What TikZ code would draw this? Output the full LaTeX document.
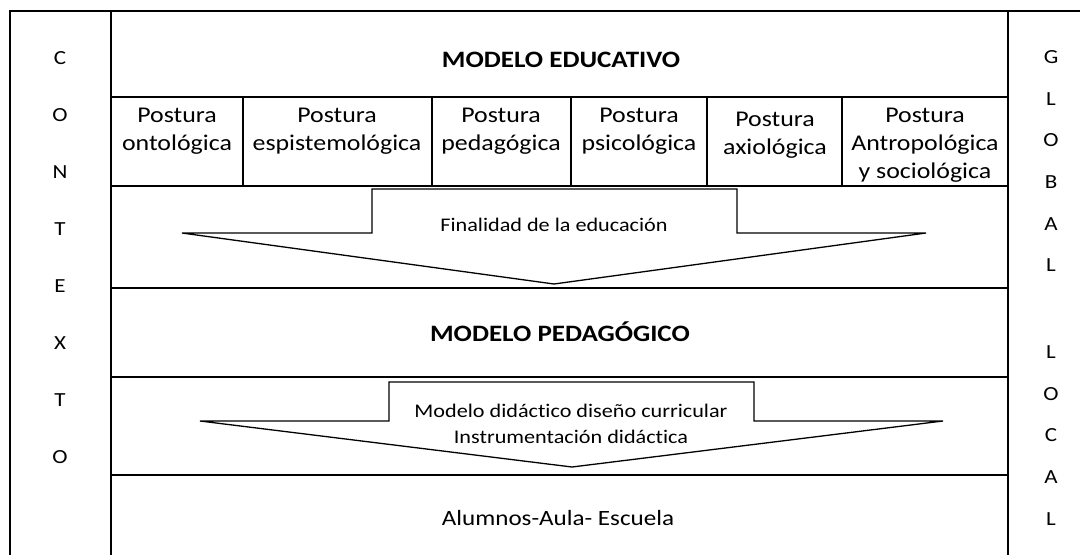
\documentclass[tikz,border=0pt]{standalone}
\usepackage{fontspec}
\setmainfont{Carlito}[FakeStretch=1.15,Ligatures=NoCommon]
\begin{document}
\begin{tikzpicture}[x=1pt,y=-1pt,line width=1.5pt,
  letra/.style={font=\fontsize{20}{24}\selectfont},
  postura/.style={align=center,font=\fontsize{22.5}{28}\selectfont},
  titulo/.style={font=\fontsize{23.5}{28}\selectfont\bfseries},
  texto/.style={align=center,font=\fontsize{19.3}{26}\selectfont}]
\useasboundingbox (0,0) rectangle (1080,555);
\draw (1080,11)--(10,11)--(10,555);
\draw (111,11)--(111,555);
\draw (1008,11)--(1008,555);
\foreach \y in {97,186,288,377,475} \draw (111,\y)--(1008,\y);
\foreach \x in {243,432,571,707,842} \draw (\x,97)--(\x,186);
\draw[line width=1.3pt] (372,189)--(737,189)--(737,233)--(926,233)--(554,284)--(182,233)--(372,233)--cycle;
\draw[line width=1.3pt] (389,382)--(754,382)--(754,421)--(943,421)--(572,467)--(200,421)--(389,421)--cycle;
\node[titulo] (educativo) at (561,60) {MODELO EDUCATIVO};
\node[postura] (onto) at (177,131) {Postura\\ontológica};
\node[postura] (epis) at (337,131) {Postura\\espistemológica};
\node[postura] (peda) at (501,131) {Postura\\pedagógica};
\node[postura] (psico) at (639,131) {Postura\\psicológica};
\node[postura] (axio) at (775,135) {Postura\\axiológica};
\node[postura] (antro) at (925,145) {Postura\\Antropológica\\y sociológica};
\node[texto] (finalidad) at (554,225) {Finalidad de la educación};
\node[titulo] (pedagogico) at (560,332) {MODELO PEDAGÓGICO};
\node[texto] (didactico) at (571,424) {Modelo didáctico diseño curricular\\Instrumentación didáctica};
\node[postura,font=\fontsize{21.8}{26}\selectfont] (alumnos) at (558,518) {Alumnos-Aula- Escuela};
\foreach \l [count=\i from 0] in {C,O,N,T,E,X,T,O} \node[letra] (c\i) at (60,58+57*\i) {\l};
\foreach \l [count=\i from 0] in {G,L,O,B,A,L} \node[letra] (g\i) at (1051,57+41.7*\i) {\l};
\foreach \l [count=\i from 0] in {L,O,C,A,L} \node[letra] (l\i) at (1051,352+41.7*\i) {\l};
\end{tikzpicture}
\end{document}
